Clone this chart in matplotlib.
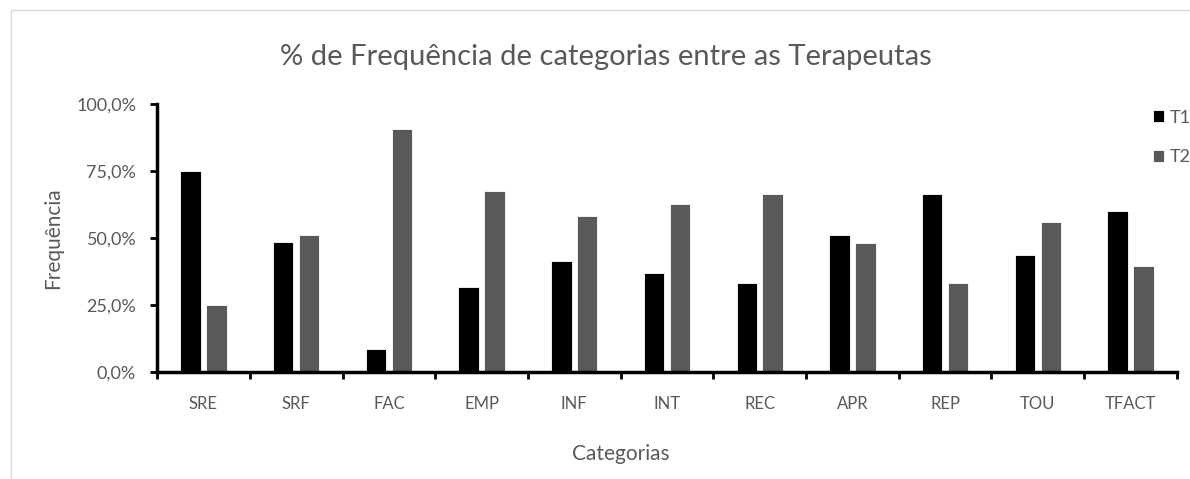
import numpy as np
import matplotlib.pyplot as plt
from matplotlib.patches import Rectangle
from matplotlib.ticker import FuncFormatter

categorias = ['SRE', 'SRF', 'FAC', 'EMP', 'INF', 'INT', 'REC', 'APR', 'REP', 'TOU', 'TFACT']
t1 = [75.0, 48.6, 8.6, 31.7, 41.3, 36.8, 33.3, 51.2, 66.4, 43.6, 60.0]
t2 = [25.0, 51.0, 90.7, 67.6, 58.1, 62.8, 66.4, 48.2, 33.3, 55.8, 39.6]
series = ['T1', 'T2']
cores = ['#000000', '#595959']

plt.rcParams['font.family'] = ['Lato', 'DejaVu Sans']
cinza = '#595959'

fig = plt.figure(figsize=(11.9, 4.79), dpi=100)
fig.patches.append(Rectangle((0.009, -0.1), 1.1, 1.1 - 10/479, transform=fig.transFigure,
                             fill=False, edgecolor='#d9d9d9', linewidth=1))
ax = fig.add_axes([0.132, 0.2234, 0.857, 0.5595])

x = np.arange(len(categorias))
w = 0.22
ax.bar(x - 0.14, t1, w, color=cores[0], label=series[0], edgecolor='white', linewidth=0.6)
ax.bar(x + 0.14, t2, w, color=cores[1], label=series[1], edgecolor='white', linewidth=0.6)

ax.set_xlim(-0.5, len(categorias) - 0.5)
ax.set_ylim(0, 100)
ax.set_yticks([0, 25, 50, 75, 100])
ax.yaxis.set_major_formatter(FuncFormatter(lambda v, p: ('%.1f%%' % v).replace('.', ',')))
ax.set_xticks(x)
ax.set_xticklabels(categorias)
ax.set_xticks(np.arange(len(categorias) + 1) - 0.5, minor=True)
ax.tick_params(axis='x', which='major', length=0, pad=17, labelsize=12, labelcolor=cinza)
ax.tick_params(axis='x', which='minor', length=5, width=2, direction='out')
ax.tick_params(axis='y', length=5, width=2, pad=10, labelsize=13, labelcolor=cinza)

for s in ['top', 'right']:
    ax.spines[s].set_visible(False)
for s in ['left', 'bottom']:
    ax.spines[s].set_linewidth(2.5)

ax.set_ylabel('Frequência', fontsize=15, color=cinza)
ax.yaxis.set_label_coords(-0.092, 0.5)
ax.set_xlabel('Categorias', fontsize=15, color=cinza)
ax.xaxis.set_label_coords(0.455, -0.27)
fig.text(0.509, 0.88, '% de Frequência de categorias entre as Terapeutas', ha='center', va='center',
         fontsize=21, color=cinza)

leg = ax.legend(loc='upper left', bbox_to_anchor=(0.955, 0.805), bbox_transform=fig.transFigure,
                frameon=False, fontsize=13, labelcolor=cinza, handlelength=0.65, handleheight=0.65,
                handletextpad=0.3, labelspacing=1.3)

plt.savefig('out.png', dpi=100)
